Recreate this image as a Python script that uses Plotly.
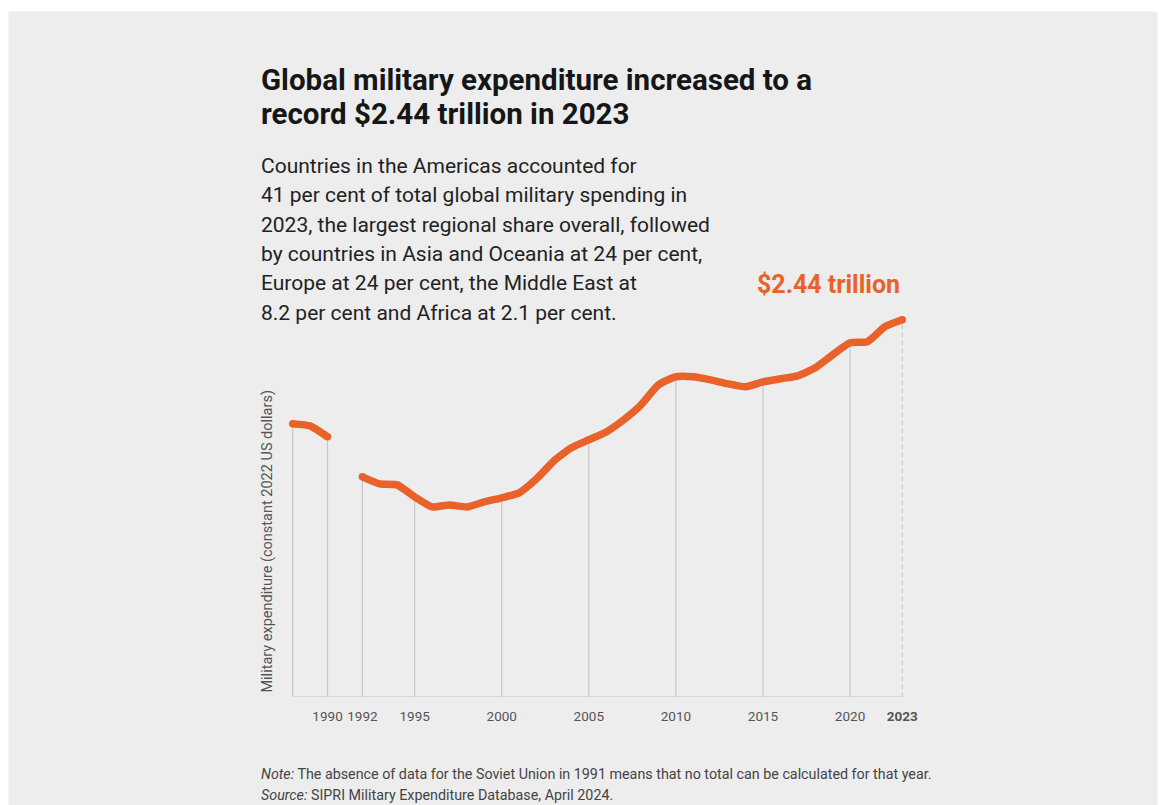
import plotly.graph_objects as go

# ---------------- data (billions, constant 2022 US$) ----------------
years = list(range(1988, 2024))
spending = [1769, 1756, 1685, None, 1426, 1380, 1374, 1296, 1231, 1244,
            1231, 1264, 1290, 1322, 1413, 1529, 1614, 1666, 1717, 1795,
            1892, 2022, 2074, 2074, 2054, 2028, 2009, 2041, 2061, 2080,
            2132, 2216, 2294, 2301, 2398, 2443]
drop_years = [1988, 1990, 1992, 1995, 2000, 2005, 2010, 2015, 2020]
tick_vals = [1990, 1992, 1995, 2000, 2005, 2010, 2015, 2020, 2023]
tick_text = ["1990", "1992", "1995", "2000", "2005", "2010", "2015", "2020", "<b>2023</b>"]
end_years = [1988, 1990, 1992, 2023]

title_lines = ["Global military expenditure increased to a",
               "record $2.44 trillion in 2023"]
sub_lines = ["Countries in the Americas accounted for",
             "41 per cent of total global military spending in",
             "2023, the largest regional share overall, followed",
             "by countries in Asia and Oceania at 24 per cent,",
             "Europe at 24 per cent, the Middle East at",
             "8.2 per cent and Africa at 2.1 per cent."]
callout = "$2.44 trillion"
y_title = "Military expenditure (constant 2022 US dollars)"
note = "<i>Note:</i> The absence of data for the Soviet Union in 1991 means that no total can be calculated for that year."
source = "<i>Source:</i> SIPRI Military Expenditure Database, April 2024."

# ---------------- layout geometry ----------------
W, H = 1159, 805
PX_PER_YEAR = 17.4
X0, X1 = 1987.5, 2023.5
L = 293 - (1988 - X0) * PX_PER_YEAR
PW = (X1 - X0) * PX_PER_YEAR
R = W - L - PW
BASE = 697
Y1 = 2500
PH = Y1 * 0.1543
T = BASE - PH
B = H - BASE

def xp(px):
    return (px - L) / PW

def yp(py):
    return (BASE - py) / PH

ORANGE = "#e8622a"
GRID = "#c6c6c6"
val = dict(zip(years, spending))

fig = go.Figure()

# drop lines
dx, dy = [], []
for yr in drop_years:
    dx += [yr, yr, None]
    dy += [0, val[yr], None]
fig.add_trace(go.Scatter(x=dx, y=dy, mode="lines", line=dict(color=GRID, width=1.2),
                         hoverinfo="skip", showlegend=False))
fig.add_trace(go.Scatter(x=[2023, 2023], y=[0, val[2023]], mode="lines",
                         line=dict(color=GRID, width=1.2, dash="4px,4px"),
                         hoverinfo="skip", showlegend=False))
# baseline
fig.add_trace(go.Scatter(x=[years[0], years[-1]], y=[0, 0], mode="lines",
                         line=dict(color=GRID, width=1.2), hoverinfo="skip", showlegend=False))
# main line
fig.add_trace(go.Scatter(x=years, y=spending, mode="lines", connectgaps=False,
                         line=dict(color=ORANGE, width=7.5, shape="spline", smoothing=0.5),
                         showlegend=False))
# round caps at ends
fig.add_trace(go.Scatter(x=end_years, y=[val[y] for y in end_years], mode="markers",
                         marker=dict(color=ORANGE, size=7.5), hoverinfo="skip", showlegend=False))

ann = []
for i, line in enumerate(title_lines):
    ann.append(dict(text=f"<b>{line}</b>", x=xp(259), y=yp([80, 114][i]), xref="paper", yref="paper",
                    xanchor="left", yanchor="middle", showarrow=False,
                    font=dict(family="Roboto", size=29.5, color="#161616")))
sub_centers = [166, 195, 225, 254, 283, 313]
for line, c in zip(sub_lines, sub_centers):
    ann.append(dict(text=line, x=xp(259), y=yp(c), xref="paper", yref="paper",
                    xanchor="left", yanchor="middle", showarrow=False,
                    font=dict(family="Roboto", size=21, color="#222222")))
ann.append(dict(text=f"<b>{callout}</b>", x=xp(902), y=yp(285), xref="paper", yref="paper",
                xanchor="right", yanchor="middle", showarrow=False,
                font=dict(family="Roboto", size=25, color=ORANGE)))
ann.append(dict(text=y_title, x=xp(268), y=yp(541), xref="paper", yref="paper", textangle=-90,
                xanchor="center", yanchor="middle", showarrow=False,
                font=dict(family="Roboto", size=14.5, color="#555555")))
for t, c in [(note, 774), (source, 795)]:
    ann.append(dict(text=t, x=xp(259), y=yp(c), xref="paper", yref="paper",
                    xanchor="left", yanchor="middle", showarrow=False,
                    font=dict(family="Roboto", size=14.3, color="#444444")))

shapes = [dict(type="rect", xref="paper", yref="paper", x0=xp(9), x1=xp(1157),
               y0=yp(12), y1=yp(H + 5), fillcolor="#ededed", line=dict(width=0), layer="below")]

fig.update_layout(
    width=W, height=H,
    margin=dict(l=L, r=R, t=T, b=B, pad=0),
    paper_bgcolor="#ffffff", plot_bgcolor="rgba(0,0,0,0)",
    xaxis=dict(range=[X0, X1], tickvals=tick_vals, ticktext=tick_text, showgrid=False,
               zeroline=False, showline=False, ticks="", ticklabelstandoff=9,
               tickfont=dict(family="Roboto", size=13.5, color="#555555")),
    yaxis=dict(range=[0, Y1], showgrid=False, zeroline=False, showline=False,
               showticklabels=False, ticks=""),
    annotations=ann, shapes=shapes, showlegend=False,
)
fig.write_html("out.html")
